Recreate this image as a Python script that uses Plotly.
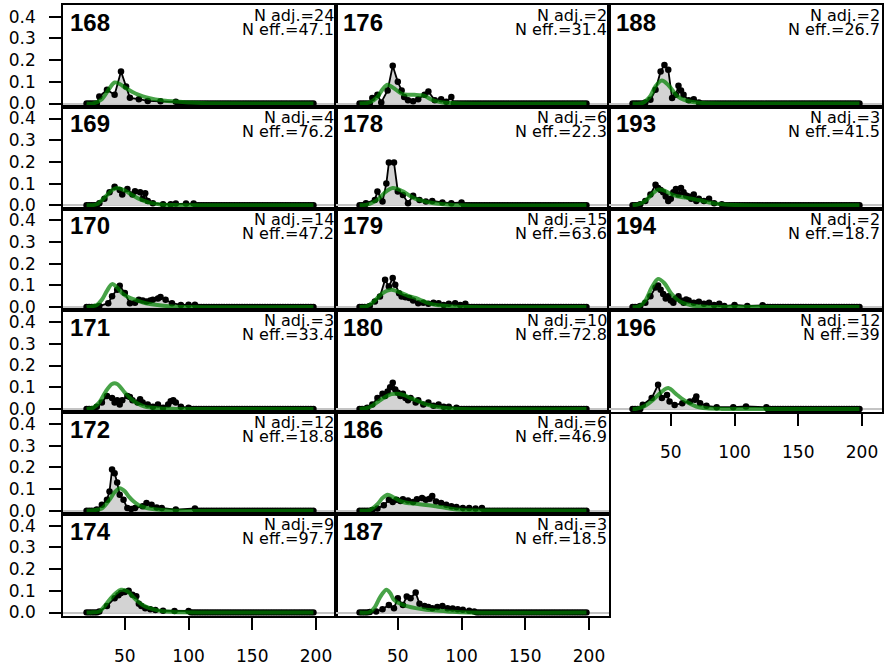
import plotly.graph_objects as go

# ---------------- data ----------------
age_grid = list(range(20, 199, 2))          # observed abscissae (zeros outside listed points)
x_tickvals = [50, 100, 150, 200]
y_tickvals = [0.0, 0.1, 0.2, 0.3, 0.4]
y_ticktext = ["0.0", "0.1", "0.2", "0.3", "0.4"]

panel_ids = ["168", "169", "170", "171", "172", "174",
             "176", "178", "179", "180", "186", "187",
             "188", "193", "194", "196"]
n_adj = [24, 4, 14, 3, 12, 9, 2, 6, 15, 10, 6, 3, 2, 3, 2, 12]
n_eff = ["47.1", "76.2", "47.2", "33.4", "18.8", "97.7",
         "31.4", "22.3", "63.6", "72.8", "46.9", "18.5",
         "26.7", "41.5", "18.7", "39"]

obs_x_168 = [30, 36, 42, 47, 51, 54, 61, 68, 78, 90]
obs_y_168 = [0.032, 0.063, 0.040, 0.148, 0.078, 0.026, 0.020, 0.012, 0.010, 0.008]
fit_x_168 = [20, 25, 32, 38, 42, 46, 51, 56, 61, 67, 74, 82, 90, 100, 110, 198]
fit_y_168 = [0, 0.0, 0.02, 0.07, 0.097, 0.09, 0.07, 0.053, 0.04, 0.028, 0.019, 0.013, 0.009, 0.005, 0.002, 0]

obs_x_169 = [30, 34, 38, 42, 46, 48, 52, 56, 58, 62, 64, 66, 68, 72, 80, 86, 90, 98, 104]
obs_y_169 = [0.01, 0.03, 0.06, 0.085, 0.07, 0.05, 0.075, 0.05, 0.065, 0.06, 0.03, 0.055, 0.02, 0.01, 0.005, 0.005, 0.008, 0.008, 0.008]
fit_x_169 = [20, 28, 34, 40, 44, 50, 55, 60, 65, 70, 78, 88, 100, 198]
fit_y_169 = [0, 0.005, 0.035, 0.07, 0.08, 0.068, 0.05, 0.033, 0.02, 0.011, 0.004, 0.001, 0, 0]

obs_x_170 = [30, 37, 40, 44, 46, 50, 54, 58, 61, 64, 67, 70, 72, 76, 78, 82, 87, 94, 100, 105]
obs_y_170 = [0.005, 0.018, 0.05, 0.08, 0.098, 0.065, 0.018, 0.02, 0.034, 0.03, 0.026, 0.03, 0.034, 0.04, 0.046, 0.034, 0.018, 0.01, 0.011, 0.011]
fit_x_170 = [20, 28, 32, 36, 40, 44, 48, 53, 58, 65, 74, 87, 100, 198]
fit_y_170 = [0, 0.01, 0.034, 0.075, 0.106, 0.09, 0.064, 0.045, 0.034, 0.02, 0.011, 0.003, 0, 0]

obs_x_171 = [28, 32, 36, 40, 42, 44, 46, 48, 52, 54, 56, 60, 62, 64, 68, 72, 76, 80, 84, 86, 88, 90, 94, 100]
obs_y_171 = [0.01, 0.03, 0.06, 0.05, 0.03, 0.04, 0.02, 0.04, 0.06, 0.055, 0.04, 0.03, 0.045, 0.03, 0.02, 0.01, 0.02, 0.005, 0.02, 0.035, 0.04, 0.03, 0.01, 0.005]
fit_x_171 = [20, 25, 30, 35, 40, 44, 50, 55, 60, 65, 70, 80, 90, 198]
fit_y_171 = [0, 0.005, 0.03, 0.08, 0.115, 0.115, 0.075, 0.045, 0.025, 0.012, 0.006, 0.001, 0, 0]

obs_x_172 = [28, 32, 36, 38, 40, 42, 44, 46, 49, 52, 55, 58, 64, 67, 71, 75, 79, 90, 105]
obs_y_172 = [0.005, 0.027, 0.05, 0.089, 0.19, 0.173, 0.13, 0.073, 0.05, 0.012, 0.008, 0.012, 0.02, 0.035, 0.027, 0.015, 0.012, 0.005, 0.01]
fit_x_172 = [20, 26, 32, 38, 42, 46, 50, 53, 57, 61, 65, 69, 79, 90, 198]
fit_y_172 = [0, 0.002, 0.01, 0.05, 0.085, 0.104, 0.09, 0.066, 0.042, 0.025, 0.016, 0.01, 0.003, 0, 0]

obs_x_174 = [30, 36, 42, 45, 47, 50, 53, 56, 59, 61, 63, 66, 70, 74, 80, 89, 100]
obs_y_174 = [0.005, 0.03, 0.066, 0.08, 0.09, 0.095, 0.1, 0.082, 0.075, 0.04, 0.03, 0.02, 0.015, 0.012, 0.008, 0.007, 0.007]
fit_x_174 = [20, 25, 30, 38, 43, 47, 52, 56, 60, 64, 69, 74, 80, 87, 95, 198]
fit_y_174 = [0, 0.001, 0.005, 0.058, 0.09, 0.105, 0.098, 0.075, 0.052, 0.035, 0.021, 0.012, 0.006, 0.003, 0.001, 0]

obs_x_176 = [30, 34, 37, 42, 46, 50, 53, 55, 58, 62, 66, 71, 74, 79, 84, 88, 92]
obs_y_176 = [0.025, 0.040, 0.005, 0.06, 0.174, 0.100, 0.060, 0.030, 0.015, 0.010, 0.02, 0.040, 0.055, 0.015, 0.020, 0.008, 0.030]
fit_x_176 = [20, 28, 34, 38, 42, 47, 53, 58, 63, 67, 71, 75, 79, 85, 92, 100, 198]
fit_y_176 = [0, 0.005, 0.03, 0.065, 0.086, 0.07, 0.045, 0.04, 0.04, 0.038, 0.035, 0.022, 0.012, 0.005, 0.002, 0, 0]

obs_x_178 = [25, 32, 34, 38, 41, 43, 47, 50, 54, 58, 62, 67, 72, 77, 85, 92, 100]
obs_y_178 = [0.01, 0.025, 0.064, 0.018, 0.10, 0.197, 0.197, 0.064, 0.048, 0.01, 0.044, 0.025, 0.018, 0.02, 0.013, 0.01, 0.013]
fit_x_178 = [20, 25, 30, 35, 40, 46, 54, 60, 64, 70, 75, 82, 90, 100, 198]
fit_y_178 = [0, 0.002, 0.012, 0.03, 0.06, 0.08, 0.064, 0.042, 0.03, 0.02, 0.013, 0.007, 0.003, 0, 0]

obs_x_179 = [28, 32, 36, 40, 43, 46, 48, 51, 53, 56, 59, 62, 66, 70, 74, 78, 82, 86, 90, 95, 99, 103]
obs_y_179 = [0.005, 0.026, 0.049, 0.126, 0.095, 0.134, 0.103, 0.064, 0.049, 0.045, 0.042, 0.03, 0.018, 0.02, 0.015, 0.02, 0.018, 0.01, 0.015, 0.018, 0.01, 0.015]
fit_x_179 = [20, 26, 32, 38, 45, 53, 58, 64, 69, 74, 80, 87, 95, 105, 198]
fit_y_179 = [0, 0.005, 0.03, 0.064, 0.08, 0.064, 0.052, 0.042, 0.03, 0.018, 0.01, 0.006, 0.002, 0, 0]

obs_x_180 = [26, 30, 34, 38, 40, 42, 44, 46, 48, 50, 52, 54, 56, 58, 60, 64, 66, 70, 74, 78, 82, 86, 90, 96]
obs_y_180 = [0.005, 0.02, 0.05, 0.07, 0.06, 0.08, 0.1, 0.12, 0.09, 0.075, 0.06, 0.07, 0.05, 0.04, 0.05, 0.03, 0.04, 0.02, 0.03, 0.015, 0.02, 0.01, 0.01, 0.005]
fit_x_180 = [20, 25, 30, 35, 40, 45, 50, 55, 60, 65, 70, 75, 80, 90, 100, 198]
fit_y_180 = [0, 0.003, 0.015, 0.035, 0.055, 0.068, 0.07, 0.063, 0.05, 0.038, 0.026, 0.017, 0.01, 0.003, 0, 0]

obs_x_186 = [30, 34, 39, 43, 46, 49, 52, 54, 58, 62, 65, 69, 72, 75, 77, 80, 84, 88, 92, 96, 101, 106, 111, 116]
obs_y_186 = [0.003, 0.01, 0.025, 0.05, 0.04, 0.05, 0.045, 0.053, 0.047, 0.04, 0.053, 0.058, 0.05, 0.055, 0.068, 0.042, 0.035, 0.028, 0.02, 0.017, 0.013, 0.012, 0.01, 0.012]
fit_x_186 = [20, 28, 34, 38, 42, 47, 54, 60, 67, 74, 80, 87, 93, 100, 106, 198]
fit_y_186 = [0, 0.003, 0.03, 0.058, 0.073, 0.06, 0.04, 0.034, 0.03, 0.025, 0.02, 0.014, 0.008, 0.004, 0.002, 0]

obs_x_187 = [28, 33, 38, 43, 47, 50, 54, 57, 60, 64, 67, 71, 74, 77, 81, 85, 89, 93, 97, 101, 106, 110]
obs_y_187 = [0.002, 0.005, 0.015, 0.035, 0.02, 0.066, 0.035, 0.074, 0.066, 0.092, 0.04, 0.03, 0.025, 0.02, 0.025, 0.03, 0.02, 0.018, 0.015, 0.013, 0.008, 0.005]
fit_x_187 = [20, 28, 32, 36, 41, 44, 47, 54, 64, 72, 80, 93, 105, 198]
fit_y_187 = [0, 0.002, 0.025, 0.07, 0.105, 0.09, 0.058, 0.035, 0.02, 0.013, 0.009, 0.003, 0, 0]

obs_x_188 = [30, 34, 38, 42, 45, 48, 51, 54, 56, 58, 60, 64, 68, 72]
obs_y_188 = [0.005, 0.017, 0.063, 0.148, 0.178, 0.155, 0.025, 0.04, 0.082, 0.06, 0.04, 0.015, 0.02, 0.005]
fit_x_188 = [20, 28, 34, 38, 43, 48, 55, 60, 66, 72, 80, 90, 198]
fit_y_188 = [0, 0.003, 0.035, 0.08, 0.106, 0.085, 0.035, 0.018, 0.008, 0.003, 0.001, 0, 0]

obs_x_193 = [26, 30, 34, 38, 40, 42, 44, 46, 48, 50, 52, 54, 56, 58, 60, 62, 64, 66, 68, 70, 72, 76, 80, 84, 90]
obs_y_193 = [0.005, 0.02, 0.05, 0.095, 0.08, 0.07, 0.06, 0.04, 0.02, 0.03, 0.06, 0.075, 0.05, 0.08, 0.06, 0.045, 0.04, 0.03, 0.05, 0.02, 0.03, 0.02, 0.03, 0.01, 0.005]
fit_x_193 = [20, 25, 30, 35, 40, 45, 50, 55, 60, 65, 70, 75, 80, 90, 100, 198]
fit_y_193 = [0, 0.005, 0.02, 0.05, 0.072, 0.068, 0.052, 0.042, 0.037, 0.032, 0.026, 0.02, 0.013, 0.005, 0.001, 0]

obs_x_194 = [26, 30, 34, 38, 40, 42, 44, 46, 48, 50, 52, 54, 56, 58, 60, 62, 64, 68, 72, 76, 80, 84, 88, 92, 100, 110, 122]
obs_y_194 = [0.005, 0.02, 0.05, 0.09, 0.1, 0.08, 0.06, 0.04, 0.05, 0.03, 0.02, 0.04, 0.05, 0.03, 0.02, 0.035, 0.03, 0.02, 0.025, 0.015, 0.02, 0.01, 0.015, 0.005, 0.01, 0.005, 0.008]
fit_x_194 = [20, 25, 30, 35, 40, 45, 50, 55, 60, 65, 70, 80, 90, 198]
fit_y_194 = [0, 0.003, 0.03, 0.09, 0.13, 0.11, 0.065, 0.035, 0.018, 0.01, 0.005, 0.001, 0, 0]

obs_x_196 = [28, 35, 40, 43, 47, 49, 53, 59, 65, 69, 70, 73, 78, 86, 99, 109, 125]
obs_y_196 = [0.019, 0.05, 0.111, 0.05, 0.064, 0.034, 0.018, 0.026, 0.034, 0.042, 0.057, 0.026, 0.014, 0.008, 0.008, 0.011, 0.008]
fit_x_196 = [20, 23, 30, 36, 43, 48, 55, 62, 70, 78, 90, 198]
fit_y_196 = [0, 0.001, 0.015, 0.041, 0.08, 0.096, 0.064, 0.034, 0.011, 0.003, 0, 0]

series = {
    "168": (obs_x_168, obs_y_168, fit_x_168, fit_y_168),
    "169": (obs_x_169, obs_y_169, fit_x_169, fit_y_169),
    "170": (obs_x_170, obs_y_170, fit_x_170, fit_y_170),
    "171": (obs_x_171, obs_y_171, fit_x_171, fit_y_171),
    "172": (obs_x_172, obs_y_172, fit_x_172, fit_y_172),
    "174": (obs_x_174, obs_y_174, fit_x_174, fit_y_174),
    "176": (obs_x_176, obs_y_176, fit_x_176, fit_y_176),
    "178": (obs_x_178, obs_y_178, fit_x_178, fit_y_178),
    "179": (obs_x_179, obs_y_179, fit_x_179, fit_y_179),
    "180": (obs_x_180, obs_y_180, fit_x_180, fit_y_180),
    "186": (obs_x_186, obs_y_186, fit_x_186, fit_y_186),
    "187": (obs_x_187, obs_y_187, fit_x_187, fit_y_187),
    "188": (obs_x_188, obs_y_188, fit_x_188, fit_y_188),
    "193": (obs_x_193, obs_y_193, fit_x_193, fit_y_193),
    "194": (obs_x_194, obs_y_194, fit_x_194, fit_y_194),
    "196": (obs_x_196, obs_y_196, fit_x_196, fit_y_196),
}

# ---------------- layout geometry ----------------
W, H = 884, 666
COL_EDGES = [63, 336, 609, 882]
ROW_TOP, ROW_H = 5, 101.8
XR = [1.5, 215.7]
YR = [-0.0152, 0.454]
NORMAL = "DejaVu Sans"
BOLD = "Liberation Sans, Arial"
GREEN = "rgba(0,128,0,0.72)"

# placement: (column, row) for each panel in order
placement = [(0, r) for r in range(6)] + [(1, r) for r in range(6)] + [(2, r) for r in range(4)]
bottom_panels = {(0, 5), (1, 5), (2, 3)}

fig = go.Figure()
annotations = []

def fx(px):
    return px / W

def fy(py):
    return 1 - py / H

for i, pid in enumerate(panel_ids):
    c, r = placement[i]
    n = i + 1
    xa = "x" if n == 1 else f"x{n}"
    ya = "y" if n == 1 else f"y{n}"
    ox, oy, gx, gy = series[pid]
    # complete observed series on the age grid (zeros outside the listed points)
    bx = [a for a in age_grid if a < ox[0]] + list(ox) + [a for a in age_grid if a > ox[-1]]
    by = [0.0 for a in age_grid if a < ox[0]] + list(oy) + [0.0 for a in age_grid if a > ox[-1]]

    fig.add_trace(go.Scatter(x=bx, y=by, mode="lines", fill="tozeroy",
                             fillcolor="#d3d3d3", line=dict(width=0, color="rgba(0,0,0,0)"),
                             hoverinfo="skip", showlegend=False, xaxis=xa, yaxis=ya))
    fig.add_trace(go.Scatter(x=bx, y=by, mode="lines+markers",
                             line=dict(color="black", width=1.8),
                             marker=dict(color="black", size=6.5),
                             showlegend=False, xaxis=xa, yaxis=ya))
    fig.add_trace(go.Scatter(x=gx, y=gy, mode="lines",
                             line=dict(color=GREEN, width=4, shape="spline", smoothing=0.9),
                             showlegend=False, xaxis=xa, yaxis=ya))

    x0, x1 = COL_EDGES[c], COL_EDGES[c + 1]
    top = ROW_TOP + r * ROW_H
    bot = top + ROW_H
    is_bottom = (c, r) in bottom_panels
    xkey = "xaxis" if n == 1 else f"xaxis{n}"
    ykey = "yaxis" if n == 1 else f"yaxis{n}"
    fig.layout[xkey] = dict(
        domain=[fx(x0), fx(x1)], range=XR, anchor=ya, showgrid=False, zeroline=False,
        showline=True, mirror=True, linecolor="black", linewidth=1.6, automargin=False,
        ticks="outside" if is_bottom else "", ticklen=12, tickwidth=1.8, tickcolor="#000000",
        tickvals=x_tickvals, showticklabels=is_bottom, ticklabelstandoff=12,
        tickfont=dict(family=NORMAL, size=17, color="black"),
    )
    fig.layout[ykey] = dict(
        domain=[fy(bot), fy(top)], range=YR, anchor=xa, showgrid=False, automargin=False,
        zeroline=True, zerolinecolor="#c4c4c4", zerolinewidth=1.5,
        showline=True, mirror=True, linecolor="black", linewidth=1.6,
        ticks="outside" if c == 0 else "", ticklen=12, tickwidth=1.8, tickcolor="#000000",
        tickvals=y_tickvals, ticktext=y_ticktext, showticklabels=(c == 0),
        ticklabelstandoff=10, tickfont=dict(family=NORMAL, size=17, color="black"),
    )

    annotations.append(dict(text=f"<b>{pid}</b>", xref="paper", yref="paper",
                            x=fx(x0 + 6), y=fy(top + 17), xanchor="left", yanchor="middle",
                            showarrow=False, font=dict(family=BOLD, size=24, color="black")))
    annotations.append(dict(text=f"N adj.={n_adj[i]}", xref="paper", yref="paper",
                            x=fx(x1 - 1), y=fy(top + 10.5), xanchor="right", yanchor="middle",
                            showarrow=False, font=dict(family=NORMAL, size=16, color="black")))
    annotations.append(dict(text=f"N eff.={n_eff[i]}", xref="paper", yref="paper",
                            x=fx(x1 - 1), y=fy(top + 24.5), xanchor="right", yanchor="middle",
                            showarrow=False, font=dict(family=NORMAL, size=16, color="black")))

fig.update_layout(width=W, height=H, margin=dict(l=0, r=0, t=0, b=0, autoexpand=False),
                  plot_bgcolor="white", paper_bgcolor="white",
                  annotations=annotations, showlegend=False)
fig.update_annotations(borderpad=0)

fig.write_html("out.html", config={"displayModeBar": False},
               post_script="document.body.style.margin='0';document.body.style.padding='0';")
